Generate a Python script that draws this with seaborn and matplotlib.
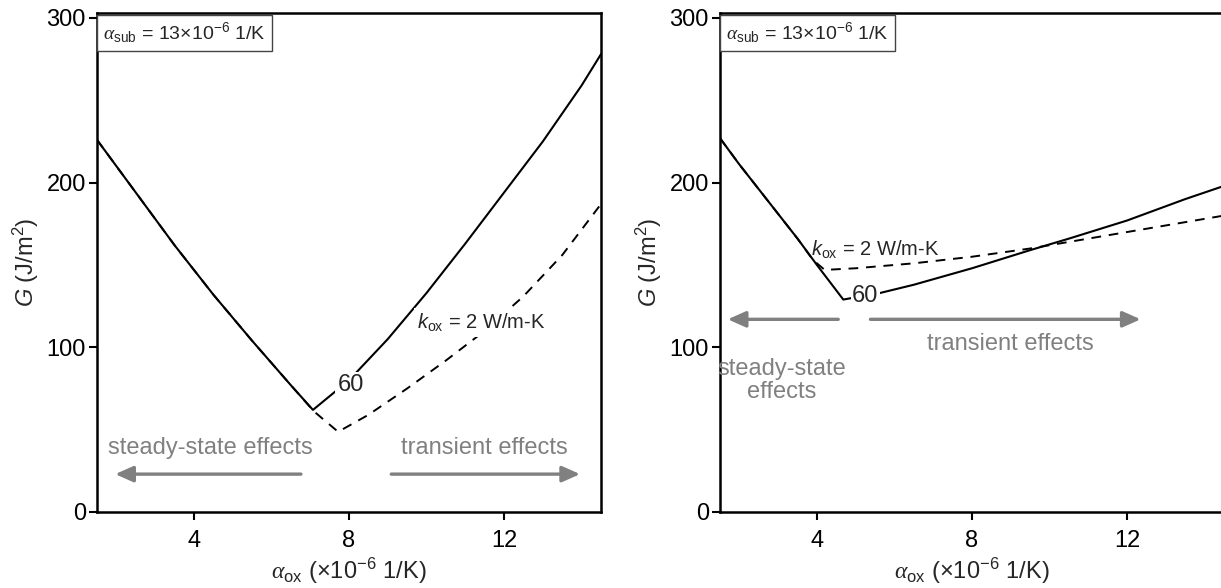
import numpy as np
import pandas as pd
import matplotlib
matplotlib.use("Agg")
import matplotlib.pyplot as plt
import seaborn as sns

# ---------------- data ----------------
# Left panel
left_solid_x = [1.5, 2.5, 3.5, 4.5, 5.5, 6.5, 7.07, 8.0, 9.0, 10.0, 11.0, 12.0, 13.0, 14.0, 14.5]
left_solid_g = [226, 194, 162, 132, 104, 77, 62, 80, 105, 133, 163, 194, 225, 259, 278]
left_dash_x = [1.5, 2.5, 3.5, 4.5, 5.5, 6.5, 7.1, 7.72, 8.5, 9.5, 10.5, 11.5, 12.5, 13.5, 14.5]
left_dash_g = [226, 194, 162, 132, 104, 77, 61, 48.7, 59, 75, 92, 110, 131, 156, 187]
# Right panel
right_solid_x = [1.5, 2.0, 2.5, 3.0, 3.5, 4.0, 4.68, 5.63, 6.5, 8.0, 9.5, 10.5, 12.0, 13.5, 14.5]
right_solid_g = [227, 211, 196, 181, 166, 150, 129, 133, 138, 148, 159, 166, 177, 190, 198]
right_dash_x = [1.5, 2.0, 2.5, 3.0, 3.5, 3.9, 4.2, 5.0, 6.5, 8.0, 9.5, 11.0, 12.5, 14.5]
right_dash_g = [227, 211, 196, 181, 166, 153, 147, 148, 151, 155, 160, 166, 172, 180]

x_ticks = [4, 8, 12]
y_ticks = [0, 100, 200, 300]

GRAY = "#808080"

sns.set_theme(style="ticks")
plt.rcParams["font.family"] = ["Liberation Sans", "DejaVu Sans"]
plt.rcParams["mathtext.fontset"] = "custom"
plt.rcParams["mathtext.rm"] = "Liberation Sans"
plt.rcParams["mathtext.it"] = "Liberation Sans:italic"
plt.rcParams["mathtext.bf"] = "Liberation Serif:italic"
plt.rcParams["mathtext.cal"] = "Liberation Sans"

fig = plt.figure(figsize=(12.21, 5.88), dpi=100)
axL = fig.add_axes([97 / 1221, 1 - 512 / 588, 504 / 1221, 499 / 588])
axR = fig.add_axes([720 / 1221, 1 - 512 / 588, 504 / 1221, 499 / 588])

FS = 17


def style_axes(ax):
    ax.set_xlim(1.5, 14.5)
    ax.set_ylim(0, 303)
    ax.set_xticks(x_ticks)
    ax.set_yticks(y_ticks)
    for s in ax.spines.values():
        s.set_visible(True)
        s.set_linewidth(1.8)
        s.set_color("black")
    ax.tick_params(axis="both", direction="out", length=6, width=1.5,
                   labelsize=FS, colors="black")
    ax.tick_params(axis="x", pad=7)
    ax.tick_params(axis="y", pad=2)
    ax.tick_params(top=False, right=False)
    ax.set_xlabel(r"$\mathbf{\alpha}_{\rm ox}$ (×10$^{-6}$ 1/K)", fontsize=FS, labelpad=3)
    ax.set_ylabel(r"$G$ (J/m$^2$)", fontsize=FS, labelpad=4)
    ax.text(0.012, 0.985, r"$\mathbf{\alpha}_{\rm sub}$ = 13×10$^{-6}$ 1/K", fontsize=FS - 3,
            ha="left", va="top", transform=ax.transAxes,
            bbox=dict(boxstyle="square,pad=0.3", fc="white", ec="#444444", lw=1.0),
            zorder=5)


def draw(ax, sx, sg, dx, dg):
    d1 = pd.DataFrame({"x": dx, "g": dg})
    d2 = pd.DataFrame({"x": sx, "g": sg})
    sns.lineplot(data=d1, x="x", y="g", ax=ax, color="black", lw=1.4,
                 linestyle=(0, (5, 4)), sort=False, estimator=None)
    sns.lineplot(data=d2, x="x", y="g", ax=ax, color="black", lw=1.5,
                 sort=False, estimator=None)


draw(axL, left_solid_x, left_solid_g, left_dash_x, left_dash_g)
draw(axR, right_solid_x, right_solid_g, right_dash_x, right_dash_g)

for ax in (axL, axR):
    style_axes(ax)

# Left annotations
axL.text(8.05, 77, "60", fontsize=FS, ha="center", va="center",
         bbox=dict(boxstyle="square,pad=0.1", fc="white", ec="none"), zorder=4)
axL.text(9.75, 115, r"$k_{\rm ox}$ = 2 W/m-K", fontsize=FS - 2.5, ha="left", va="center",
         bbox=dict(boxstyle="square,pad=0.15", fc="white", ec="none"), zorder=4)
axL.text(4.43, 39, "steady-state effects", fontsize=FS, color=GRAY, ha="center", va="center")
axL.text(11.5, 39, "transient effects", fontsize=FS, color=GRAY, ha="center", va="center")
arrow_kw = dict(arrowstyle="-|>,head_length=0.9,head_width=0.4", color=GRAY, lw=2.4,
                shrinkA=0, shrinkB=0)
axL.annotate("", xy=(1.97, 23), xytext=(6.76, 23), arrowprops=arrow_kw)
axL.annotate("", xy=(13.96, 23), xytext=(9.09, 23), arrowprops=arrow_kw)

# Right annotations
axR.text(5.25, 131, "60", fontsize=FS, ha="center", va="center",
         bbox=dict(boxstyle="square,pad=0.05", fc="white", ec="none"), zorder=4)
axR.text(3.85, 159, r"$k_{\rm ox}$ = 2 W/m-K", fontsize=FS - 2.5, ha="left", va="center", zorder=4)
axR.text(3.08, 80, "steady-state\neffects", fontsize=FS, color=GRAY, ha="center",
         va="center", linespacing=1.05)
axR.text(9.0, 102, "transient effects", fontsize=FS, color=GRAY, ha="center", va="center")
axR.annotate("", xy=(1.7, 117), xytext=(4.55, 117), arrowprops=arrow_kw)
axR.annotate("", xy=(12.35, 117), xytext=(5.38, 117), arrowprops=arrow_kw)

fig.savefig("out.png", dpi=100)
